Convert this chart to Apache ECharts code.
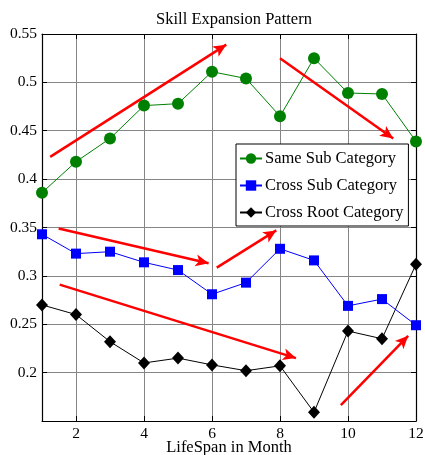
<!DOCTYPE html>
<html>
<head>
<meta charset="utf-8">
<script src="https://cdn.jsdelivr.net/npm/echarts@6/dist/echarts.min.js"></script>
<style>
  html, body { margin: 0; padding: 0; background: #fff; }
  #chart { width: 425px; height: 455px; }
</style>
</head>
<body>
<div id="chart"></div>
<script>
const months = [1, 2, 3, 4, 5, 6, 7, 8, 9, 10, 11, 12];
const sameSub = [0.386, 0.418, 0.442, 0.476, 0.478, 0.511, 0.504, 0.465, 0.525, 0.489, 0.488, 0.439];
const crossSub = [0.343, 0.323, 0.325, 0.314, 0.306, 0.281, 0.293, 0.328, 0.316, 0.269, 0.276, 0.249];
const crossRoot = [0.270, 0.260, 0.232, 0.210, 0.215, 0.208, 0.202, 0.207, 0.159, 0.243, 0.235, 0.312];
const xTicks = [2, 4, 6, 8, 10, 12];
// trend arrows, [from, to] in data coords
const arrows = [
    [[1.24, 0.423], [6.42, 0.539]],
    [[8.0, 0.525], [11.33, 0.442]],
    [[1.49, 0.349], [5.9, 0.313]],
    [[6.14, 0.3085], [7.89, 0.347]],
    [[9.06, 0.3395], [12.12, 0.270]],
    [[1.52, 0.291], [8.47, 0.215]],
    [[9.79, 0.1665], [11.77, 0.238]]
];

const font = 'Liberation Serif';
const chart = echarts.init(document.getElementById('chart'));

const pair = (xs, ys) => xs.map((x, i) => [x, ys[i]]);

const option = {
    animation: false,
    backgroundColor: '#fff',
    title: {
        text: 'Skill Expansion Pattern',
        left: 229,
        textAlign: 'center',
        top: 6,
        textStyle: { fontFamily: font, fontSize: 16.5, fontWeight: 'normal', color: '#000' }
    },
    grid: { left: 42, right: 9, top: 34, bottom: 34, containLabel: false, outerBoundsMode: 'none' },
    legend: {
        data: ['Same Sub Category', 'Cross Sub Category', 'Cross Root Category'],
        orient: 'vertical',
        left: 236,
        top: 144,
        backgroundColor: '#fff',
        borderColor: '#000',
        borderWidth: 1,
        padding: [6, 5, 5, 3],
        itemWidth: 22,
        itemHeight: 13,
        itemGap: 10,
        textStyle: { fontFamily: font, fontSize: 16.5, color: '#000', padding: [0, 0, 0, -2] }
    },
    xAxis: [{
        type: 'value',
        min: 1,
        max: 12,
        name: 'LifeSpan in Month',
        nameLocation: 'middle',
        nameGap: 18,
        nameMoveOverlap: false,
        nameTextStyle: { fontFamily: font, fontSize: 16.5, color: '#000' },
        axisLine: { lineStyle: { color: '#000', width: 1.2 } },
        axisTick: { inside: true, length: 5, customValues: xTicks, lineStyle: { color: '#000' } },
        axisLabel: { customValues: xTicks, margin: 5, fontFamily: font, fontSize: 15.5, color: '#000' },
        splitLine: { show: true, lineStyle: { color: '#858585', width: 1 } }
    }, {
        type: 'value',
        min: 1,
        max: 12,
        position: 'top',
        axisLine: { lineStyle: { color: '#000', width: 1.2 } },
        axisTick: { inside: true, length: 5, customValues: xTicks, lineStyle: { color: '#000' } },
        axisLabel: { show: false },
        splitLine: { show: false }
    }],
    yAxis: [{
        type: 'value',
        min: 0.15,
        max: 0.55,
        interval: 0.05,
        axisLine: { show: true, lineStyle: { color: '#000', width: 1.2 } },
        axisTick: { show: true, inside: true, length: 5, lineStyle: { color: '#000' } },
        axisLabel: {
            margin: 5,
            fontFamily: font,
            fontSize: 15.5,
            color: '#000',
            formatter: v => {
                const r = parseFloat(v.toFixed(2));
                return r === 0.15 ? '' : String(r);
            }
        },
        splitLine: { show: true, lineStyle: { color: '#858585', width: 1 } }
    }, {
        type: 'value',
        min: 0.15,
        max: 0.55,
        interval: 0.05,
        position: 'right',
        axisLine: { show: true, lineStyle: { color: '#000', width: 1.2 } },
        axisTick: { show: true, inside: true, length: 5, lineStyle: { color: '#000' } },
        axisLabel: { show: false },
        splitLine: { show: false }
    }],
    series: [{
        name: 'Same Sub Category',
        type: 'line',
        data: pair(months, sameSub),
        symbol: 'circle',
        symbolSize: 12,
        itemStyle: { color: '#008000' },
        lineStyle: { color: '#008000', width: 1 }
    }, {
        name: 'Cross Sub Category',
        type: 'line',
        data: pair(months, crossSub),
        symbol: 'rect',
        symbolSize: 10,
        itemStyle: { color: '#0000ff' },
        lineStyle: { color: '#0000ff', width: 1 }
    }, {
        name: 'Cross Root Category',
        type: 'line',
        data: pair(months, crossRoot),
        symbol: 'diamond',
        symbolSize: [12, 13],
        itemStyle: { color: '#000' },
        lineStyle: { color: '#000', width: 1 }
    }, {
        name: 'arrows',
        type: 'line',
        data: [],
        silent: true,
        z: 1,
        markLine: {
            silent: true,
            symbol: ['none', 'arrow'],
            symbolSize: [9, 13],
            label: { show: false },
            lineStyle: { color: '#ff0000', width: 2.5, type: 'solid' },
            data: arrows.map(a => [{ coord: a[0] }, { coord: a[1] }])
        }
    }]
};

chart.setOption(option);
</script>
</body>
</html>
